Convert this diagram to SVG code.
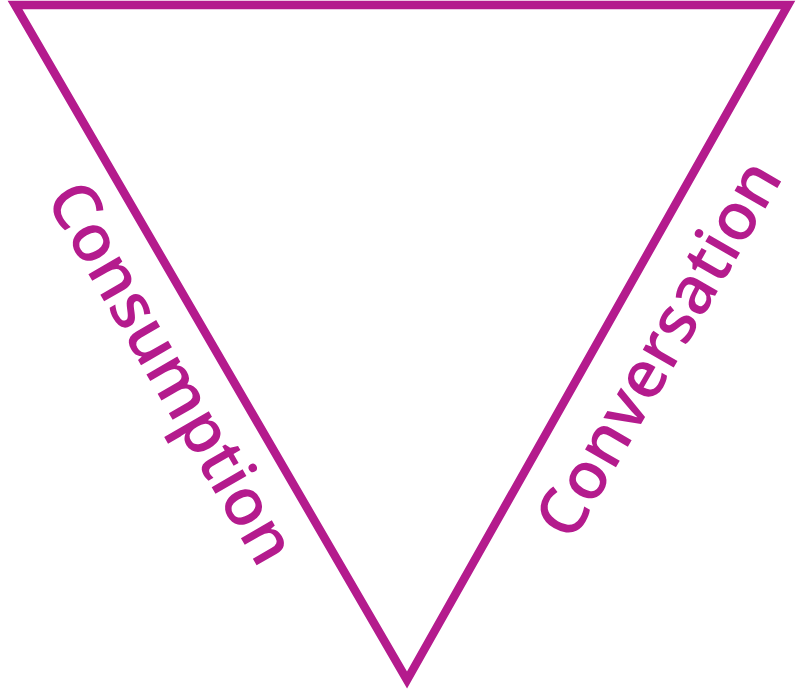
<svg xmlns="http://www.w3.org/2000/svg" width="798" height="690" viewBox="0 0 798 690">
<style>
.edge{fill:none;stroke:#B41B8D;stroke-width:8.5;stroke-linejoin:miter}
.lbl{font-family:"Open Sans","Noto Sans",sans-serif;font-size:66px;font-weight:600;fill:#B41B8D;text-anchor:middle}
</style>
<rect width="798" height="690" fill="#fff"/>
<g id="connectors">
<polygon id="triangle" class="edge" points="15,5 788,5 407,680"/>
</g>
<g id="consumption">
<text class="lbl" transform="translate(152,384) rotate(60)">Consumption</text>
</g>
<g id="conversation">
<text class="lbl" font-size="65" transform="translate(678,360) rotate(-60)">Conversation</text>
</g>
</svg>
